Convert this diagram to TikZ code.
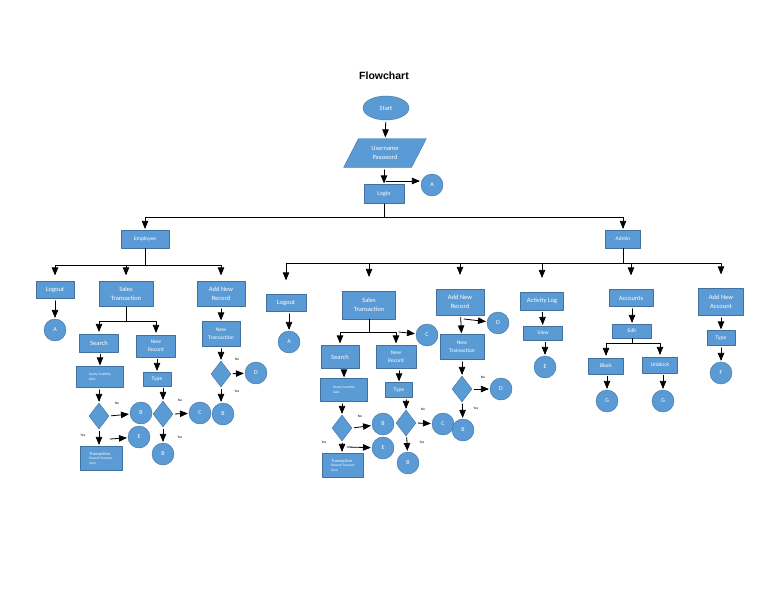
\documentclass[tikz,border=0pt]{standalone}
\usepackage{fontspec}
\setmainfont{Carlito}
\newfontfamily\titlefont{Liberation Sans}
\usepackage{tikz}
\usetikzlibrary{arrows}
\usetikzlibrary{shapes.geometric}
\usetikzlibrary{calc}
\definecolor{boxfill}{RGB}{91,155,213}
\definecolor{boxline}{RGB}{65,113,156}

\begin{document}
\begin{tikzpicture}[x=1pt,y=-1pt,line cap=round,line join=round,>=triangle 45,
  box/.style={rectangle,draw=boxline,fill=boxfill,text=white,inner sep=1pt,align=center,
    font=\fontsize{6.5}{9}\selectfont},
  smallbox/.style={box,font=\fontsize{5.5}{7.5}\selectfont},
  tinybox/.style={box,font=\fontsize{3.5}{4.5}\selectfont,align=left},
  conn/.style={circle,draw=boxline,fill=boxfill,text=white,minimum size=22,inner sep=0pt,
    font=\fontsize{6}{7}\selectfont},
  decide/.style={diamond,draw=boxline,fill=boxfill,minimum width=20,minimum height=26,inner sep=0pt},
  arr/.style={->,line width=0.8pt,shorten <=2pt,shorten >=1pt},
  branch/.style={->,line width=0.8pt},
  lbl/.style={font=\fontsize{3.5}{4}\selectfont,inner sep=0pt}]
\useasboundingbox (0,0) rectangle (768,594);
\node[font=\titlefont\bfseries\fontsize{10.5}{12}\selectfont] (title) at (384,76) {Flowchart};
% top part
\node[ellipse,draw=boxline,fill=boxfill,text=white,minimum width=46,minimum height=24,
  inner sep=0pt,font=\fontsize{6.5}{7}\selectfont] (start) at (386,108) {Start};
\node[trapezium,trapezium left angle=60,trapezium right angle=120,trapezium stretches=true,
  draw=boxline,fill=boxfill,text=white,minimum width=83,minimum height=29,inner sep=0pt,
  align=center,font=\fontsize{6.5}{9}\selectfont] (user) at (385,153) {Username\\Password};
\node[smallbox,minimum width=40,minimum height=19,font=\fontsize{6}{7}\selectfont] (login) at (384,194) {Login};
\node[conn] (la) at (432,185) {A};
\node[smallbox,minimum width=48,minimum height=18] (emp) at (145,239) {Employee};
\node[smallbox,minimum width=35,minimum height=18] (adm) at (623,239) {Admin};
\coordinate (las) at (386,181);
\draw[arr] (start) -- (user);
\draw[arr] (user.south -| login) -- (login);
\draw[arr,shorten <=0pt] (las) -- (las -| la.west);
\draw (login.south) -- ++(0,14) coordinate (lsplit);
\draw[branch,shorten >=1pt] (lsplit) -| (emp.north);
\draw[branch,shorten >=1pt] (lsplit) -| (adm.north);
% employee
\node[box,minimum width=38,minimum height=17] (elog) at (55,290) {Logout};
\node[conn] (ea) at (55,330) {A};
\node[box,minimum width=54,minimum height=25] (esal) at (126,294) {Sales\\Transaction};
\node[box,minimum width=48,minimum height=25] (eadd) at (221,294) {Add New\\Record};
\node[box,minimum width=39,minimum height=18] (esea) at (99,343) {Search};
\node[smallbox,minimum width=39,minimum height=22] (enew) at (156,346) {New\\Record};
\node[tinybox,minimum width=47,minimum height=21] (eyear) at (100,377) {Yearly/monthly\\date};
\node[smallbox,minimum width=28,minimum height=14] (etype) at (157,379) {Type};
\node[decide] (edec1) at (99,416) {};
\node[decide] (edec2) at (163,414) {};
\node[conn] (eb1) at (141,413) {B};
\node[tinybox,minimum width=42,minimum height=24] (etran) at (101,458)
  {{\fontsize{4.5}{5}\selectfont Transaction}\\Record/Transact\\Item};
\node[conn] (ee) at (139,437) {E};
\node[conn] (ec1) at (200,413) {C};
\node[conn] (eb2) at (163,454) {B};
\node[smallbox,minimum width=38,minimum height=25] (entr) at (221,334) {New\\Transaction};
\node[decide] (edec3) at (221,374) {};
\node[conn] (ed) at (256,373) {D};
\node[conn] (eb3) at (223,414) {B};
\node[lbl] (eno1) at (117,403) {No};
\node[lbl] (eyes1) at (83,435) {Yes};
\node[lbl] (eno2) at (180,400) {No};
\node[lbl] (eyes2) at (180,437) {Yes};
\node[lbl] (eno3) at (237,359) {No};
\node[lbl] (eyes3) at (237,391) {Yes};
\coordinate (ees) at (110,439);
\draw (emp.south) -- ++(0,17) coordinate (esplit);
\draw[branch,shorten >=6pt] (esplit) -| (elog.north);
\draw[branch,shorten >=6pt] (esplit) -| (esal.north);
\draw[branch,shorten >=6pt] (esplit) -| (eadd.north);
\draw[arr] (elog) -- (ea);
\draw (esal.south) -- ++(0,15) coordinate (essplit);
\draw[branch,shorten >=2pt] (essplit) -| (esea.north);
\draw[branch,shorten >=2pt] (essplit) -| (enew.north);
\draw[arr] (esea.south -| eyear) -- (eyear);
\draw[arr] (enew.south -| etype) -- (etype);
\draw[arr] (eyear.south -| edec1) -- (edec1);
\draw[arr] (edec2.north |- etype.south) -- (edec2);
\draw[arr] (edec1.east) -- (eb1);
\draw[arr] (edec1.south) -- (edec1.south |- etran.north);
\draw[arr,shorten <=0pt] (ees) -- (ee);
\draw[arr] (edec2.east) -- (ec1);
\draw[arr] (edec2) -- (eb2);
\draw[arr] (eadd) -- (entr);
\draw[arr] (entr) -- (edec3);
\draw[arr] (edec3) -- (ed);
\draw[arr] (edec3.south) -- (edec3.south |- eb3.north);
% admin
\node[box,minimum width=40,minimum height=17] (alog) at (286,303) {Logout};
\node[conn] (aa) at (289,342) {A};
\node[box,minimum width=53,minimum height=28] (asal) at (369,305) {Sales\\Transaction};
\node[conn] (ac0) at (427,335) {C};
\node[box,minimum width=38,minimum height=23] (asea) at (340,357) {Search};
\node[smallbox,minimum width=40,minimum height=23] (anew) at (396,357) {New\\Record};
\node[tinybox,minimum width=47,minimum height=23] (ayear) at (344,390) {Yearly/monthly\\date};
\node[smallbox,minimum width=27,minimum height=15] (atype) at (399,390) {Type};
\node[decide] (adec1) at (342,428) {};
\node[conn] (ab1) at (383,424) {B};
\node[tinybox,minimum width=41,minimum height=24] (atran) at (343,465)
  {{\fontsize{4.5}{5}\selectfont Transaction}\\Record/Transact\\Item};
\node[conn] (ae) at (383,448) {E};
\node[decide] (adec2) at (406,423) {};
\node[conn] (ac1) at (443,424) {C};
\node[conn] (ab2) at (408,463) {B};
\node[box,minimum width=48,minimum height=26] (aadd) at (460,302) {Add New\\Record};
\node[conn] (ad0) at (498,323) {D};
\node[smallbox,minimum width=44,minimum height=25] (antr) at (462,347) {New\\Transaction};
\node[decide] (adec3) at (462,389) {};
\node[conn] (ad1) at (501,389) {D};
\node[conn] (ab3) at (463,430) {B};
\node[box,minimum width=43,minimum height=18] (aact) at (542,301) {Activity Log};
\node[smallbox,minimum width=39,minimum height=14] (aview) at (543,333) {View};
\node[conn] (ae2) at (545,367) {E};
\node[box,minimum width=44,minimum height=17] (aacc) at (631,298) {Accounts};
\node[smallbox,minimum width=39,minimum height=14] (aedit) at (632,331) {Edit};
\node[smallbox,minimum width=35,minimum height=16] (ablk) at (606,366) {Block};
\node[smallbox,minimum width=35,minimum height=16] (aunb) at (660,365) {Unblock};
\node[conn] (ag1) at (607,401) {G};
\node[conn] (ag2) at (663,401) {G};
\node[box,minimum width=45,minimum height=27] (anacc) at (721,302) {Add New\\Account};
\node[smallbox,minimum width=28,minimum height=15] (antype) at (721,338) {Type};
\node[conn] (af) at (721,373) {F};
\node[lbl] (ano1) at (360,416) {No};
\node[lbl] (ayes1) at (324,442) {Yes};
\node[lbl] (ano2) at (423,409) {No};
\node[lbl] (ayes2) at (422,442) {Yes};
\node[lbl] (ano3) at (483,377) {No};
\node[lbl] (ayes3) at (476,408) {Yes};
\coordinate (acs) at (399,332);
\coordinate (aes) at (347,447);
\coordinate (ads) at (464,319);
\draw (adm.south) -- ++(0,15) coordinate (asplit);
\foreach \n in {alog,asal,aadd,aact,aacc,anacc}
  \draw[branch,shorten >=14pt] (asplit) -| (\n.north);
\draw[arr] (alog.south -| aa) -- (aa);
\draw (asal.south) -- ++(0,13) coordinate (assplit);
\draw[branch,shorten >=2pt] (assplit) -| (asea.north);
\draw[branch,shorten >=2pt] (assplit) -| (anew.north);
\draw[arr,shorten <=0pt] (acs) -- (ac0);
\draw[arr] (asea.south -| ayear) -- (ayear);
\draw[arr] (anew.south -| atype) -- (atype);
\draw[arr] (ayear.south -| adec1) -- (adec1);
\draw[arr] (adec2.north |- atype.south) -- (adec2);
\draw[arr] (adec1.east) -- (ab1);
\draw[arr] (adec1.south) -- (adec1.south |- atran.north);
\draw[arr,shorten <=0pt] (aes) -- (ae);
\draw[arr] (adec2.east) -- (ac1);
\draw[arr] (adec2) -- (ab2);
\draw[arr] (aadd) -- (antr);
\draw[arr,shorten <=0pt] (ads) -- (ad0);
\draw[arr] (antr) -- (adec3);
\draw[arr] (adec3) -- (ad1);
\draw[arr] (adec3) -- (ab3);
\draw[arr] (aact) -- (aview);
\draw[arr] (aview.south -| ae2) -- (ae2);
\draw[arr] (aacc.south -| aedit) -- (aedit);
\draw (aedit.south) -- ++(0,5) coordinate (aesplit);
\draw[branch,shorten >=2pt] (aesplit) -| (ablk.north);
\draw[branch,shorten >=2pt] (aesplit) -| (aunb.north);
\draw[arr] (ablk.south -| ag1) -- (ag1);
\draw[arr] (aunb.south -| ag2) -- (ag2);
\draw[arr] (anacc) -- (antype);
\draw[arr] (antype) -- (af);
\end{tikzpicture}
\end{document}
